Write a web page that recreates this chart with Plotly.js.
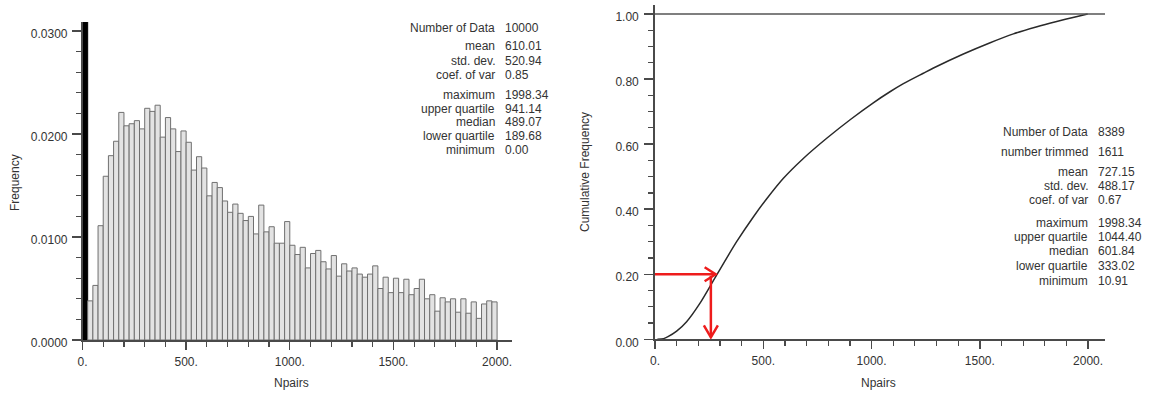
<!DOCTYPE html>
<html>
<head>
<meta charset="utf-8">
<script src="https://cdn.plot.ly/plotly-3.0.1.min.js"></script>
<style>
  html, body { margin: 0; padding: 0; background: #fff; }
  #chart { width: 1151px; height: 395px; }
</style>
</head>
<body>
<div id="chart"></div>
<script>
// ---------------- data ----------------
// histogram of Npairs: bin width 25, 80 bins from 0 to 2000 (first bin is off scale)
const binWidth = 25;
const histFreq = [
  0.0500, 0.0038, 0.0053, 0.0111, 0.0159, 0.0179, 0.0193, 0.0221, 0.0208, 0.0210,
  0.0213, 0.0205, 0.0225, 0.0222, 0.0228, 0.0197, 0.0216, 0.0205, 0.0183, 0.0203,
  0.0192, 0.0165, 0.0178, 0.0167, 0.0140, 0.0153, 0.0148, 0.0135, 0.0124, 0.0132,
  0.0123, 0.0116, 0.0120, 0.0103, 0.0131, 0.0105, 0.0110, 0.0094, 0.0094, 0.0115,
  0.0092, 0.0083, 0.0090, 0.0070, 0.0084, 0.0087, 0.0076, 0.0069, 0.0082, 0.0062,
  0.0074, 0.0067, 0.0070, 0.0064, 0.0061, 0.0064, 0.0072, 0.0050, 0.0061, 0.0046,
  0.0060, 0.0046, 0.0059, 0.0044, 0.0050, 0.0059, 0.0040, 0.0044, 0.0028, 0.0041,
  0.0037, 0.0040, 0.0027, 0.0040, 0.0026, 0.0037, 0.0021, 0.0035, 0.0038, 0.0037
];
const binCenters = histFreq.map((_, i) => i * binWidth + binWidth / 2);

// cumulative frequency curve (trimmed data)
const cdfX = [11, 40, 60, 100, 146, 208, 285, 377, 454, 516, 593, 685, 793, 901, 1008, 1085, 1147, 1239, 1286, 1424, 1545, 1655, 1760, 1855, 1940, 1998];
const cdfY = [0.000, 0.002, 0.008, 0.025, 0.054, 0.111, 0.198, 0.300, 0.376, 0.432, 0.495, 0.556, 0.618, 0.675, 0.727, 0.761, 0.786, 0.818, 0.834, 0.877, 0.911, 0.939, 0.960, 0.977, 0.991, 1.000];

// quantile read-off arrows
const arrowProb = 0.20;
const arrowCurveX = 280;
const arrowValueX = 258;

// tick labels
const xTickVals = [0, 500, 1000, 1500, 2000];
const xTickText = ["0.", "500.", "1000.", "1500.", "2000."];

// summary statistics
const leftStatLabels = ["Number of Data", "mean", "std. dev.", "coef. of var", "maximum", "upper quartile", "median", "lower quartile", "minimum"];
const leftStatValues = ["10000", "610.01", "520.94", "0.85", "1998.34", "941.14", "489.07", "189.68", "0.00"];
const rightStatLabels = ["Number of Data", "number trimmed", "mean", "std. dev.", "coef. of var", "maximum", "upper quartile", "median", "lower quartile", "minimum"];
const rightStatValues = ["8389", "1611", "727.15", "488.17", "0.67", "1998.34", "1044.40", "601.84", "333.02", "10.91"];

// ---------------- layout helpers ----------------
const W = 1151, H = 395;
const px = v => v / W;
const py = v => 1 - v / H;
const FONT = "Liberation Sans, Arial, Helvetica, sans-serif";
const TXT = "#333333";
const AX = "#4a4a4a";

const traces = [
  {
    type: "bar",
    x: binCenters,
    y: histFreq,
    width: binWidth,
    marker: {
      color: histFreq.map((_, i) => i === 0 ? "#000000" : "#e3e3e3"),
      line: { color: histFreq.map((_, i) => i === 0 ? "#000000" : "#707070"), width: 1 }
    },
    xaxis: "x", yaxis: "y",
    hoverinfo: "x+y"
  },
  {
    type: "scatter",
    mode: "lines",
    x: cdfX,
    y: cdfY,
    line: { color: "#2a2a2a", width: 1.5, shape: "spline", smoothing: 0.8 },
    xaxis: "x2", yaxis: "y2"
  }
];

const baseX = {
  showgrid: false, zeroline: false, showline: true,
  linecolor: AX, linewidth: 1.6,
  ticks: "outside", ticklen: 8, tickwidth: 1.4, tickcolor: AX,
  tickmode: "array", tickvals: xTickVals, ticktext: xTickText,
  tickfont: { family: FONT, size: 12, color: TXT },
  minor: { ticks: "outside", ticklen: 5, tickwidth: 1.2, tickcolor: AX, dtick: 100, tick0: 0, showgrid: false },
  fixedrange: true
};

const annotations = [];
function addStats(labels, values, xLabelRight, xValueLeft, rows) {
  labels.forEach((lab, i) => {
    annotations.push({ xref: "paper", yref: "paper", x: px(xLabelRight), y: py(rows[i]),
      xanchor: "right", yanchor: "middle", showarrow: false, text: lab,
      font: { family: FONT, size: 12, color: TXT } });
    annotations.push({ xref: "paper", yref: "paper", x: px(xValueLeft), y: py(rows[i]),
      xanchor: "left", yanchor: "middle", showarrow: false, text: values[i],
      font: { family: FONT, size: 12, color: TXT } });
  });
}
addStats(leftStatLabels, leftStatValues, 497, 503, [27.5, 46.5, 60.5, 74.5, 95, 108.5, 122, 136, 150]);
addStats(rightStatLabels, rightStatValues, 1090, 1096, [131.5, 151.5, 171.5, 186, 200, 223, 237, 251.5, 265.5, 280.5]);

const titleFont = { family: FONT, size: 12, color: TXT };
annotations.push({ xref: "paper", yref: "paper", x: px(15), y: py(182), textangle: -90, showarrow: false, text: "Frequency", font: titleFont, xanchor: "center", yanchor: "middle" });
annotations.push({ xref: "paper", yref: "paper", x: px(291), y: py(383), showarrow: false, text: "Npairs", font: titleFont, xanchor: "center", yanchor: "middle" });
annotations.push({ xref: "paper", yref: "paper", x: px(585), y: py(172), textangle: -90, showarrow: false, text: "Cumulative Frequency", font: titleFont, xanchor: "center", yanchor: "middle" });
annotations.push({ xref: "paper", yref: "paper", x: px(878), y: py(383), showarrow: false, text: "Npairs", font: titleFont, xanchor: "center", yanchor: "middle" });

const RED = "#ee1c1c";
const shapes = [
  // reference line at cumulative frequency 1.0
  { type: "line", xref: "x2 domain", yref: "y2", x0: 0, x1: 1, y0: 1, y1: 1, line: { color: "#555555", width: 1.5 } },
  // horizontal arrow shaft
  { type: "line", xref: "x2", yref: "y2", x0: 0, x1: arrowCurveX, y0: arrowProb, y1: arrowProb, line: { color: RED, width: 2.5 } },
  // horizontal arrow head
  { type: "path", xref: "x2", yref: "y2", xsizemode: "pixel", ysizemode: "pixel", xanchor: arrowCurveX, yanchor: arrowProb,
    path: "M -11 7 L 0 0 L -11 -7", line: { color: RED, width: 2.5 } },
  // vertical arrow shaft
  { type: "line", xref: "x2", yref: "y2", x0: arrowValueX, x1: arrowValueX, y0: arrowProb - 0.005, y1: 0.006, line: { color: RED, width: 2.5 } },
  // vertical arrow head
  { type: "path", xref: "x2", yref: "y2", xsizemode: "pixel", ysizemode: "pixel", xanchor: arrowValueX, yanchor: 0.006,
    path: "M -7 12 L 0 0 L 7 12", line: { color: RED, width: 2.5 } }
];

const layout = {
  width: W, height: H,
  margin: { l: 0, r: 0, t: 0, b: 0, pad: 0 },
  paper_bgcolor: "#ffffff", plot_bgcolor: "rgba(0,0,0,0)",
  showlegend: false,
  bargap: 0,
  font: { family: FONT, size: 12, color: TXT },
  xaxis: Object.assign({}, baseX, { domain: [px(82.5), px(512)], range: [0, 2072], anchor: "y", ticklabelstandoff: 2 }),
  yaxis: {
    domain: [py(340), py(22)], range: [0, 0.03088], anchor: "x",
    showgrid: false, zeroline: false, showline: true, linecolor: AX, linewidth: 1.6,
    ticks: "outside", ticklen: 9, tickwidth: 1.4, tickcolor: AX,
    tickmode: "linear", tick0: 0, dtick: 0.01, tickformat: ".4f",
    tickfont: { family: FONT, size: 12, color: TXT }, ticklabelshift: 3, ticklabelstandoff: 2,
    minor: { ticks: "outside", ticklen: 5, tickwidth: 1.2, tickcolor: AX, dtick: 0.002, tick0: 0, showgrid: false },
    fixedrange: true
  },
  xaxis2: Object.assign({}, baseX, { domain: [px(655), px(1105)], range: [0, 2078], anchor: "y2", ticklabelstandoff: 2 }),
  yaxis2: {
    domain: [py(339.3), py(5)], range: [0, 1.0277], anchor: "x2",
    showgrid: false, zeroline: false, showline: true, linecolor: AX, linewidth: 1.8,
    ticks: "outside", ticklen: 9, tickwidth: 1.4, tickcolor: AX,
    tickmode: "linear", tick0: 0, dtick: 0.2, tickformat: ".2f",
    tickfont: { family: FONT, size: 12, color: TXT }, ticklabelshift: 3, ticklabelstandoff: 3,
    minor: { ticks: "outside", ticklen: 5, tickwidth: 1.2, tickcolor: AX, dtick: 0.05, tick0: 0, showgrid: false },
    fixedrange: true
  },
  annotations: annotations,
  shapes: shapes
};

Plotly.newPlot("chart", traces, layout, { displayModeBar: false, staticPlot: true });
</script>
</body>
</html>
